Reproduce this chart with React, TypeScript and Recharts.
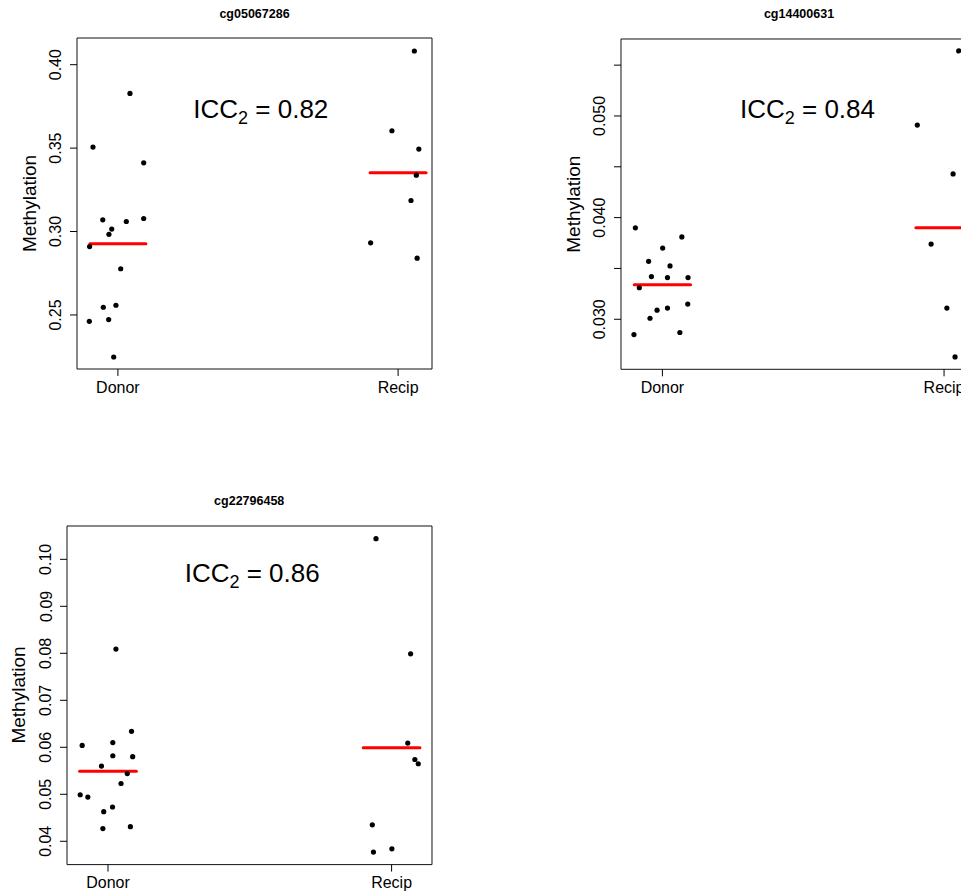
import React from "react";
import {
  ScatterChart,
  Scatter,
  XAxis,
  YAxis,
  ReferenceLine,
  ReferenceArea,
} from "recharts";

const FONT = '"Liberation Sans", Arial, Helvetica, sans-serif';
const GROUPS = ["Donor", "Recip"];

// cg05067286
const p1DonorX = [1.043, 0.911, 1.092, 0.946, 1.03, 1.092, 0.978, 0.968, 0.899, 1.01, 0.948, 0.993, 0.898, 0.967, 0.985];
const p1DonorY = [0.3828, 0.3506, 0.3412, 0.307, 0.306, 0.3078, 0.3015, 0.2983, 0.291, 0.2777, 0.2546, 0.2558, 0.2462, 0.2472, 0.2248];
const p1RecipX = [2.058, 1.978, 2.074, 2.065, 2.046, 1.902, 2.068];
const p1RecipY = [0.4082, 0.3604, 0.3494, 0.3338, 0.3186, 0.2932, 0.284];
const p1Means = [0.2926, 0.3352];
const p1Ticks = [0.25, 0.3, 0.35, 0.4];

// cg14400631
const p2DonorX = [0.904, 1.069, 1.001, 0.951, 1.027, 0.961, 1.018, 1.091, 0.918, 1.09, 1.018, 0.981, 0.956, 1.062, 0.899];
const p2DonorY = [0.039, 0.0381, 0.037, 0.0357, 0.03525, 0.0342, 0.0341, 0.0341, 0.0331, 0.0315, 0.0311, 0.0309, 0.0301, 0.0287, 0.0285];
const p2RecipX = [2.052, 1.905, 2.032, 1.954, 2.01, 2.039];
const p2RecipY = [0.0564, 0.0491, 0.0443, 0.0374, 0.0311, 0.0263];
const p2Means = [0.0334, 0.039];
const p2Ticks = [0.03, 0.035, 0.04, 0.045, 0.05, 0.055];

// cg22796458
const p3DonorX = [1.028, 1.083, 0.909, 1.017, 1.017, 1.087, 0.977, 1.068, 1.046, 0.902, 0.929, 0.985, 1.016, 0.982, 1.079];
const p3DonorY = [0.0809, 0.0634, 0.0604, 0.061, 0.0582, 0.058, 0.056, 0.0544, 0.0523, 0.0499, 0.0494, 0.0463, 0.0473, 0.0427, 0.0431];
const p3RecipX = [1.945, 2.067, 2.057, 2.082, 2.094, 1.932, 1.936, 2.001];
const p3RecipY = [0.1044, 0.0799, 0.0609, 0.0574, 0.0565, 0.0435, 0.0377, 0.0384];
const p3Means = [0.0549, 0.0599];
const p3Ticks = [0.04, 0.05, 0.06, 0.07, 0.08, 0.09, 0.1];

const zip = (xs: number[], ys: number[]) => xs.map((x, i) => ({ x, y: ys[i] }));

type PanelCfg = {
  title: string;
  icc: string;
  box: { x0: number; y0: number; x1: number; y1: number };
  xDomain: [number, number];
  yDomain: [number, number];
  yTicks: number[];
  digits: number;
  showLabel: (v: number) => boolean;
  donor: { x: number; y: number }[];
  recip: { x: number; y: number }[];
  means: number[];
  titleAt: [number, number];
  iccAt: [number, number];
};

const PANELS: PanelCfg[] = [
  {
    title: "cg05067286",
    icc: "0.82",
    box: { x0: 77, y0: 38, x1: 432, y1: 369 },
    xDomain: [0.854, 2.121],
    yDomain: [0.2176, 0.416],
    yTicks: p1Ticks,
    digits: 2,
    showLabel: () => true,
    donor: zip(p1DonorX, p1DonorY),
    recip: zip(p1RecipX, p1RecipY),
    means: p1Means,
    titleAt: [254.5, 18],
    iccAt: [260.8, 118.3],
  },
  {
    title: "cg14400631",
    icc: "0.84",
    box: { x0: 621.3, y0: 39, x1: 977.6, y1: 369.3 },
    xDomain: [0.853, 2.118],
    yDomain: [0.02508, 0.05757],
    yTicks: p2Ticks,
    digits: 3,
    showLabel: (v) => Math.abs(v * 100 - Math.round(v * 100)) < 1e-6,
    donor: zip(p2DonorX, p2DonorY),
    recip: zip(p2RecipX, p2RecipY),
    means: p2Means,
    titleAt: [799, 18],
    iccAt: [807.5, 118.3],
  },
  {
    title: "cg22796458",
    icc: "0.86",
    box: { x0: 66.7, y0: 525.7, x1: 431.7, y1: 864.3 },
    xDomain: [0.8555, 2.1424],
    yDomain: [0.03504, 0.10709],
    yTicks: p3Ticks,
    digits: 2,
    showLabel: () => true,
    donor: zip(p3DonorX, p3DonorY),
    recip: zip(p3RecipX, p3RecipY),
    means: p3Means,
    titleAt: [249.2, 505],
    iccAt: [252.2, 581.7],
  },
];

const Dot = (p: any) => <circle cx={p.cx} cy={p.cy} r={2.6} fill="#000" />;

function Panel({ cfg }: { cfg: PanelCfg }) {
  const { x0, y0, x1, y1 } = cfg.box;
  const yw = 60;
  const xh = 40;
  const width = x1 - x0 + yw + 10;
  const height = y1 - y0 + 10 + xh;
  return (
    <div style={{ position: "absolute", left: x0 - yw, top: y0 - 10 }}>
      <ScatterChart width={width} height={height} margin={{ top: 10, right: 10, bottom: 0, left: 0 }}>
        <XAxis
          type="number"
          dataKey="x"
          domain={cfg.xDomain}
          allowDataOverflow
          ticks={[1, 2]}
          interval={0}
          height={xh}
          axisLine={false}
          tickSize={7}
          tickMargin={0}
          tickLine={{ stroke: "#000" }}
          tick={(p: any) => (
            <text x={p.x} y={p.y + 16.5} textAnchor="middle" fontFamily={FONT} fontSize={16} fill="#000">
              {GROUPS[Math.round(p.payload.value) - 1]}
            </text>
          )}
        />
        <YAxis
          type="number"
          dataKey="y"
          domain={cfg.yDomain}
          allowDataOverflow
          ticks={cfg.yTicks}
          interval={0}
          width={yw}
          axisLine={false}
          tickSize={7}
          tickMargin={0}
          tickLine={{ stroke: "#000" }}
          tick={(p: any) => {
            const v = p.payload.value;
            if (!cfg.showLabel(v)) return <g />;
            const bx = p.x - 8.5;
            return (
              <text
                x={bx}
                y={p.y}
                transform={`rotate(-90 ${bx} ${p.y})`}
                textAnchor="middle"
                fontFamily={FONT}
                fontSize={16}
                fill="#000"
              >
                {v.toFixed(cfg.digits)}
              </text>
            );
          }}
        />
        <ReferenceArea
          x1={cfg.xDomain[0]}
          x2={cfg.xDomain[1]}
          y1={cfg.yDomain[0]}
          y2={cfg.yDomain[1]}
          fill="none"
          fillOpacity={0}
          stroke="#111"
          strokeWidth={1}
          ifOverflow="visible"
        />
        <Scatter data={cfg.donor} shape={Dot} isAnimationActive={false} />
        <Scatter data={cfg.recip} shape={Dot} isAnimationActive={false} />
        {cfg.means.map((m, i) => (
          <ReferenceLine
            key={i}
            segment={[
              { x: i + 1 - 0.1, y: m },
              { x: i + 1 + 0.1, y: m },
            ]}
            stroke="#ff0000"
            strokeWidth={3}
            strokeLinecap="round"
            ifOverflow="visible"
          />
        ))}
      </ScatterChart>
    </div>
  );
}

export default function App() {
  return (
    <div
      style={{
        position: "fixed",
        left: 0,
        top: 0,
        width: 961,
        height: 893,
        overflow: "hidden",
        background: "#fff",
      }}
    >
      {PANELS.map((cfg) => (
        <Panel key={cfg.title} cfg={cfg} />
      ))}
      <svg
        width={961}
        height={893}
        style={{ position: "absolute", left: 0, top: 0, pointerEvents: "none" }}
      >
        {PANELS.map((cfg) => {
          const lx = cfg.box.x0 - 41.5;
          const ly = (cfg.box.y0 + cfg.box.y1) / 2;
          return (
            <g key={cfg.title} fontFamily={FONT} fill="#000">
              <text x={cfg.titleAt[0]} y={cfg.titleAt[1]} textAnchor="middle" fontSize={12.5} fontWeight="bold">
                {cfg.title}
              </text>
              <text x={lx} y={ly} transform={`rotate(-90 ${lx} ${ly})`} textAnchor="middle" fontSize={19}>
                Methylation
              </text>
              <text x={cfg.iccAt[0]} y={cfg.iccAt[1]} textAnchor="middle" fontSize={26}>
                ICC
                <tspan fontSize={18} dy={6}>
                  2
                </tspan>
                <tspan dy={-6}>{" = " + cfg.icc}</tspan>
              </text>
            </g>
          );
        })}
      </svg>
    </div>
  );
}
